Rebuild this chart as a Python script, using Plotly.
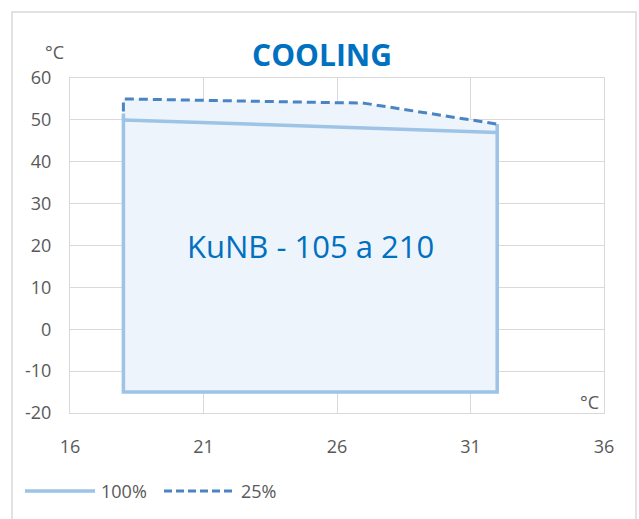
import plotly.graph_objects as go

# Data
x_area = [18, 18, 27, 32, 32, 18]
y_area = [-15, 55, 54, 49, -15, -15]

x_100 = [18, 18, 32, 32, None, 18, 32]
y_100 = [51.5, -15, -15, 49, None, 50, 47]

x_25 = [18, 18, 27, 32]
y_25 = [52, 55, 54, 49]

x_ticks = [16, 21, 26, 31, 36]
y_ticks = [-20, -10, 0, 10, 20, 30, 40, 50, 60]

FONT = "Open Sans"
GRAY = "#595959"
C100 = "#9DC3E6"
C25 = "#4A84C4"

def px_x(p):
    return (p - 70) / 534.0

def px_y(p):
    return (413 - p) / 335.0

fig = go.Figure()
fig.add_trace(go.Scatter(x=x_area, y=y_area, fill="toself", fillcolor="#EEF4FB",
                         line=dict(width=0), mode="lines", showlegend=False, hoverinfo="skip"))
fig.add_trace(go.Scatter(x=x_100, y=y_100, mode="lines", name="100%", showlegend=False,
                         line=dict(color=C100, width=3.5)))
fig.add_trace(go.Scatter(x=x_25, y=y_25, mode="lines", name="25%", showlegend=False,
                         line=dict(color=C25, width=3, dash="9px,5px")))

fig.update_layout(
    width=639, height=519,
    margin=dict(l=70, r=35, t=78, b=106),
    paper_bgcolor="white", plot_bgcolor="white",
    font=dict(family=FONT, color=GRAY, size=17),
    title=dict(text="<b>COOLING</b>", x=322/639, xanchor="center", y=1 - 55/519, yanchor="middle",
               font=dict(family=FONT, size=30, color="#0070C0")),
    xaxis=dict(range=[16, 36], tickvals=x_ticks, ticktext=[str(v) for v in x_ticks],
               showgrid=True, gridcolor="#D9D9D9",
               showline=True, mirror=True, linecolor="#D9D9D9", zeroline=False,
               ticks="", ticklabelstandoff=17, tickfont=dict(size=18, color=GRAY)),
    yaxis=dict(range=[-20, 60], tickvals=y_ticks, ticktext=[str(v) for v in y_ticks],
               showgrid=True, gridcolor="#D9D9D9",
               showline=True, mirror=True, linecolor="#D9D9D9", zeroline=False,
               ticks="", ticklabelstandoff=14, tickfont=dict(size=18, color=GRAY)),
    showlegend=False,
    annotations=[
        dict(text="KuNB - 105 a 210", x=25, y=20, xref="x", yref="y", showarrow=False,
             font=dict(family=FONT, size=31, color="#0070C0")),
        dict(text="°C", x=px_x(66), y=px_y(52), xref="paper", yref="paper", showarrow=False,
             xanchor="right", yanchor="middle", font=dict(size=18, color=GRAY)),
        dict(text="°C", x=px_x(601), y=px_y(402), xref="paper", yref="paper", showarrow=False,
             xanchor="right", yanchor="middle", font=dict(size=18, color=GRAY)),
        dict(text="100%", x=px_x(99), y=px_y(491), xref="paper", yref="paper", showarrow=False,
             xanchor="left", yanchor="middle", font=dict(size=18, color=GRAY)),
        dict(text="25%", x=px_x(239), y=px_y(491), xref="paper", yref="paper", showarrow=False,
             xanchor="left", yanchor="middle", font=dict(size=18, color=GRAY)),
    ],
    shapes=[
        dict(type="rect", xref="paper", yref="paper", x0=px_x(12), x1=px_x(636),
             y0=px_y(522), y1=px_y(12), line=dict(color="#D9D9D9", width=1.5)),
        dict(type="line", xref="paper", yref="paper", x0=px_x(25), x1=px_x(95),
             y0=px_y(491), y1=px_y(491), line=dict(color=C100, width=3.5)),
        dict(type="line", xref="paper", yref="paper", x0=px_x(164), x1=px_x(234),
             y0=px_y(491), y1=px_y(491), line=dict(color=C25, width=3, dash="8px,4px")),
    ],
)

fig.write_html("out.html", config={"displayModeBar": False},
               post_script="document.body.style.margin='0';")
